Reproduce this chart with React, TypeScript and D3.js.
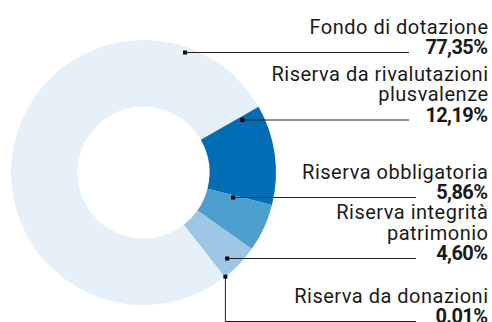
import React, { useEffect, useRef } from 'react';
import * as d3 from 'd3';

const W = 492;
const H = 322;

// data
const names = [
    ['Fondo di dotazione'],
    ['Riserva da rivalutazioni', 'plusvalenze'],
    ['Riserva obbligatoria'],
    ['Riserva integrità', 'patrimonio'],
    ['Riserva da donazioni'],
];
const values = [77.35, 12.19, 5.86, 4.6, 0.01];
const pctLabels = ['77,35%', '12,19%', '5,86%', '4,60%', '0.01%'];
const colors = ['#e6f0f8', '#006db4', '#4e9ecd', '#9dc7e4', '#8fbddf'];

// label layout (baseline of the percentage line, leader end, anchor radius)
const pctBaseline = [54, 121.5, 199, 260, 323];
const leaderEnd = [409, 409, 416, 416, 416];
const anchorRadius = [127, 112, 93, 120, null];

const App = () => {
    const svgRef = useRef(null);

    useEffect(() => {
        document.body.style.margin = '0';
        const svg = d3.select(svgRef.current);
        svg.selectAll('*').remove();

        const cx = 143.5;
        const cy = 172.5;
        const outerR = 132.5;
        const innerR = 66;
        const start = (141.84 * Math.PI) / 180;

        const pie = d3
            .pie()
            .sort(null)
            .value((d) => d)
            .startAngle(start)
            .endAngle(start + 2 * Math.PI);
        const arcs = pie(values);
        const arc = d3.arc().innerRadius(innerR).outerRadius(outerR);

        const g = svg.append('g').attr('transform', `translate(${cx},${cy})`);
        g.selectAll('path')
            .data(arcs)
            .enter()
            .append('path')
            .attr('d', arc)
            .attr('fill', (d, i) => colors[i])
            .attr('stroke', (d, i) => (i === 4 ? '#8fbddf' : 'none'))
            .attr('stroke-width', 0.6);

        const lineH = 20.5;
        const textX = 488;

        names.forEach((lines, i) => {
            const base = pctBaseline[i];
            lines.forEach((ln, j) => {
                svg.append('text')
                    .attr('x', textX + 0.5)
                    .attr('y', base - lineH * (lines.length - j))
                    .attr('text-anchor', 'end')
                    .style('font-family', 'Roboto')
                    .style('font-size', '20px')
                    .style('letter-spacing', '0.5px')
                    .style('fill', '#1a1a1a')
                    .text(ln);
            });
            svg.append('text')
                .attr('x', textX - 0.6)
                .attr('y', base)
                .attr('text-anchor', 'end')
                .style('font-family', 'Roboto')
                .style('font-weight', 'bold')
                .style('font-size', '20px')
                .style('letter-spacing', '-0.6px')
                .style('fill', '#1a1a1a')
                .text(pctLabels[i]);

            const ly = base - 1.5;
            let ax;
            let ay;
            if (anchorRadius[i] !== null) {
                const r = anchorRadius[i];
                const dy = ly - cy;
                ax = cx + Math.sqrt(r * r - dy * dy);
                ay = ly;
                svg.append('line')
                    .attr('x1', ax)
                    .attr('x2', leaderEnd[i])
                    .attr('y1', ly)
                    .attr('y2', ly)
                    .attr('stroke', '#222')
                    .attr('stroke-width', 1);
            } else {
                const a = (arcs[i].startAngle + arcs[i].endAngle) / 2;
                ax = cx + outerR * Math.sin(a);
                ay = cy - outerR * Math.cos(a);
                svg.append('path')
                    .attr('d', `M${ax},${ay}V${ly}H${leaderEnd[i]}`)
                    .attr('fill', 'none')
                    .attr('stroke', '#222')
                    .attr('stroke-width', 1);
            }
            svg.append('rect')
                .attr('x', ax - 2)
                .attr('y', ay - 2)
                .attr('width', 4)
                .attr('height', 4)
                .attr('fill', '#000');
        });
    }, []);

    return <svg ref={svgRef} width={W} height={H} style={{ display: 'block' }} />;
};

export default App;
